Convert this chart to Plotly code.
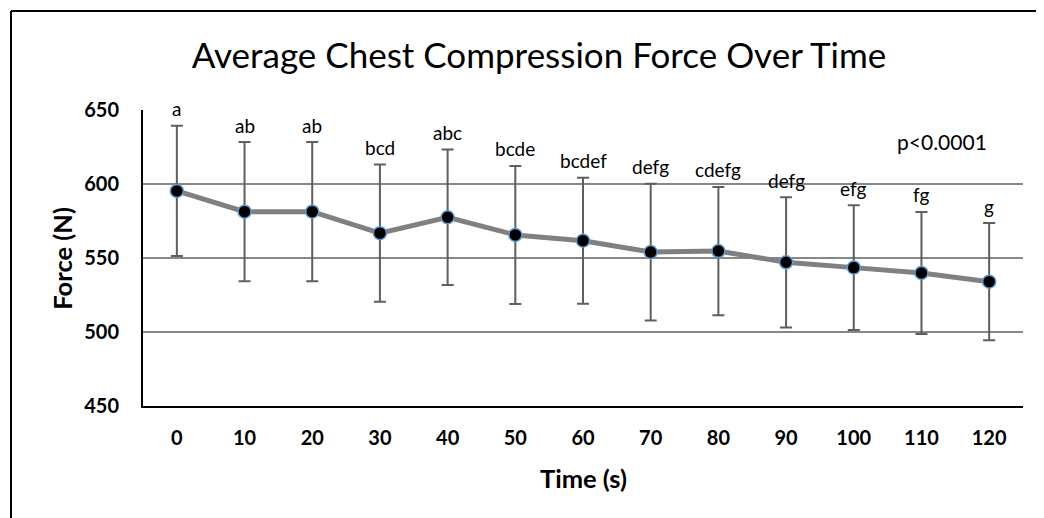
import plotly.graph_objects as go

times = ["0", "10", "20", "30", "40", "50", "60", "70", "80", "90", "100", "110", "120"]
force_mean = [595.3, 581.3, 581.3, 566.8, 577.5, 565.6, 561.7, 554.0, 554.7, 547.1, 543.5, 539.9, 534.0]
force_sd = [44.0, 47.0, 47.0, 46.3, 45.8, 46.6, 42.6, 46.2, 43.3, 44.0, 42.2, 41.2, 39.6]
sig_letters = ["a", "ab", "ab", "bcd", "abc", "bcde", "bcdef", "defg", "cdefg", "defg", "efg", "fg", "g"]
p_text = "p<0.0001"

xi = list(range(len(times)))
upper = [m + s for m, s in zip(force_mean, force_sd)]

FONT = "Lato"

# page has an 8px body margin; figure is sized so the plot lands where the reference has it
W, H = 1036, 510

fig = go.Figure()
fig.add_trace(go.Scatter(
    x=xi, y=force_mean, mode="lines+markers",
    line=dict(color="#808080", width=5),
    marker=dict(size=13, color="black", line=dict(color="#5B9BD5", width=1.5)),
    error_y=dict(type="data", array=force_sd, visible=True, color="#5F5F5F", thickness=2, width=6),
    showlegend=False, hoverinfo="skip",
))

for i, (u, lab) in enumerate(zip(upper, sig_letters)):
    fig.add_annotation(x=i, y=u, xref="x", yref="y", text=lab, showarrow=False,
                       xanchor="center", yanchor="middle", yshift=17,
                       font=dict(family=FONT, size=19, color="black"))

fig.add_annotation(x=11.3, y=628.6, xref="x", yref="y", text=p_text, showarrow=False,
                   font=dict(family=FONT, size=21, color="black"), xanchor="center", yanchor="middle")

# axis titles
fig.add_annotation(x=-0.0924, y=0.5, xref="paper", yref="paper", text="<b>Force (N)</b>", showarrow=False,
                   textangle=-90, xanchor="center", yanchor="middle",
                   font=dict(family=FONT, size=25.5, color="black"))
fig.add_annotation(x=0.501, y=-0.243, xref="paper", yref="paper", text="<b>Time (s)</b>", showarrow=False,
                   xanchor="center", yanchor="middle",
                   font=dict(family=FONT, size=25.5, color="black"))

# outer chart border (only left and top edges are inside the picture)
fig.add_shape(type="line", xref="paper", yref="paper", x0=-0.15, x1=1.2, y0=1.3345, y1=1.3345,
              line=dict(color="black", width=2), layer="below")
fig.add_shape(type="line", xref="paper", yref="paper", x0=-0.15, x1=-0.15, y0=-0.6, y1=1.3345,
              line=dict(color="black", width=2), layer="below")

fig.update_layout(
    width=W, height=H,
    margin=dict(l=135, r=21, t=102, b=112),
    paper_bgcolor="white", plot_bgcolor="white",
    title=dict(text="Average Chest Compression Force Over Time", x=531 / W, xref="container", xanchor="center",
               y=1 - 48 / H, yref="container", yanchor="middle",
               font=dict(family=FONT, size=35, color="black")),
    xaxis=dict(range=[-0.5, 12.5], tickvals=xi, ticktext=times, showgrid=False, zeroline=False,
               showline=True, linecolor="black", linewidth=2, ticks="",
               tickfont=dict(family=FONT, size=20, color="black", weight="bold"),
               ticklabelstandoff=13),
    yaxis=dict(range=[450, 650], dtick=50, tick0=450, showgrid=True, gridcolor="#878787", gridwidth=1.5,
               zeroline=False, showline=True, linecolor="black", linewidth=2, ticks="",
               tickfont=dict(family=FONT, size=20, color="black", weight="bold"),
               ticklabelstandoff=18),
)

fig.write_html("out.html")
